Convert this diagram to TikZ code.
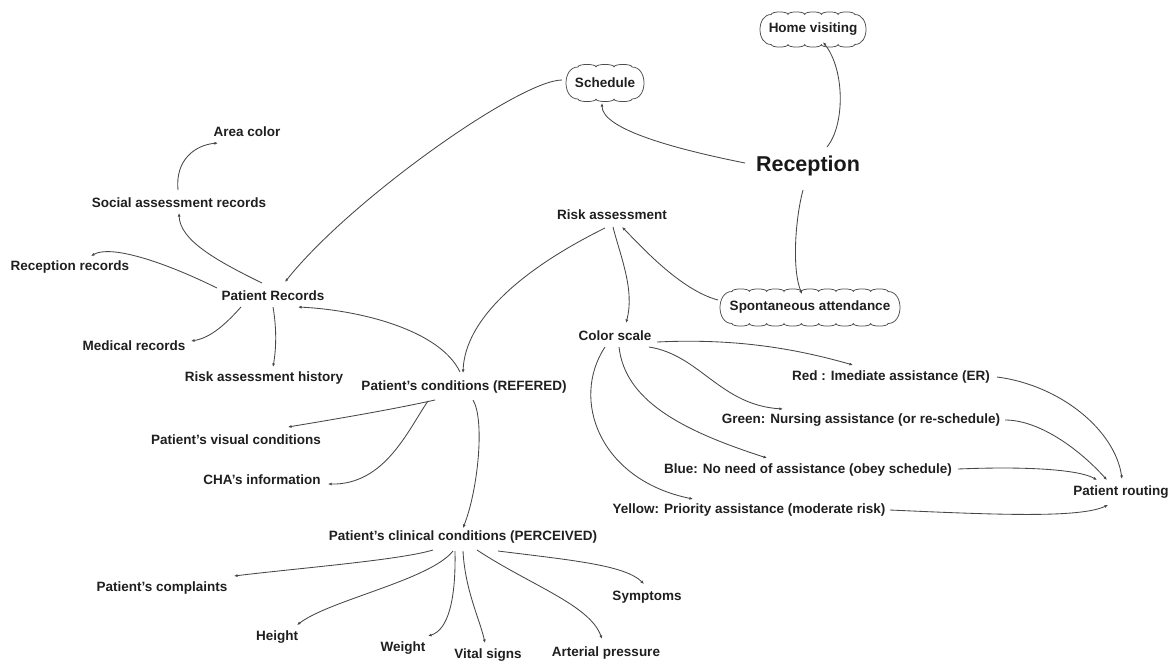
\documentclass[tikz,border=0pt]{standalone}
\usepackage{fontspec}
\setmainfont{Liberation Sans}
\usetikzlibrary{arrows.meta}

\tikzset{
  lbl/.style={inner sep=0pt, text=black!88, font=\fontsize{13.5}{15}\selectfont\bfseries},
  hub/.style={inner sep=0pt, text=black!90, font=\fontsize{21.5}{24}\selectfont\bfseries},
  rim/.style={draw=black!70, line width=0.75pt, line join=round},
  link/.style={draw=black!72, line width=0.85pt, -{Latex[length=3.6pt,width=3pt]}},
}

% scalloped frame: centre x, centre y, half width, half height, number of scallops per long side
\newcommand\cloudrim[5]{%
  \pgfmathsetmacro\rimL{#1-#3+0.75*#4}%
  \pgfmathsetmacro\rimR{#1+#3-0.75*#4}%
  \pgfmathsetmacro\rimS{(\rimR-\rimL)/#5}%
  \pgfmathsetmacro\rimT{#2-#4}%
  \pgfmathsetmacro\rimB{#2+#4}%
  \pgfmathsetmacro\rimK{1.0*#4}%
  \draw[rim] (\rimL,\rimT)
    \foreach \k in {1,...,#5}{ .. controls +(0,-3.4) and +(0,-3.4) .. ++(\rimS,0) }
    .. controls +(\rimK,0) and +(\rimK,0) .. (\rimR,\rimB)
    \foreach \k in {1,...,#5}{ .. controls +(0,3.4) and +(0,3.4) .. ++(-\rimS,0) }
    .. controls +(-\rimK,0) and +(-\rimK,0) .. (\rimL,\rimT) -- cycle;
}

\begin{document}
\begin{tikzpicture}[x=1pt, y=-1pt]
\useasboundingbox (0,0) rectangle (1173,662);

% reception hub and its destinations
\node[hub] (rec) at (808,166) {Reception};
\node[lbl, minimum width=109pt, minimum height=35pt] (hv) at (813,29) {Home visiting};
\node[lbl, minimum width=82pt, minimum height=36pt] (sch) at (605,83) {Schedule};
\node[lbl, minimum width=184pt, minimum height=37pt] (sa) at (810,307) {Spontaneous attendance};
\cloudrim{813}{29.5}{53}{15}{5}
\cloudrim{605}{83}{39}{16}{3}
\cloudrim{810}{307.5}{90}{16}{9}

% risk assessment branch
\node[lbl] (ra) at (612,215) {Risk assessment};
\node[lbl] (cs) at (615,336) {Color scale};
\node[lbl] (red) at (891,377) {Red : Imediate assistance (ER)};
\node[lbl] (grn) at (861,420) {Green: Nursing assistance (or re-schedule)};
\node[lbl] (blu) at (808,470) {Blue: No need of assistance (obey schedule)};
\node[lbl] (yel) at (749,510) {Yellow: Priority assistance (moderate risk)};
\node[lbl] (prt) at (1121,492) {Patient routing};

% patient records branch
\node[lbl] (pr) at (273,296) {Patient Records};
\node[lbl] (sar) at (179,203) {Social assessment records};
\node[lbl] (ac) at (247,132) {Area color};
\node[lbl] (rr) at (70,267) {Reception records};
\node[lbl] (mr) at (134,346) {Medical records};
\node[lbl] (rah) at (264,378) {Risk assessment history};

% patient conditions branch
\node[lbl] (pc) at (464,387) {Patient's conditions (REFERED)};
\node[lbl] (pvc) at (236,440) {Patient's visual conditions};
\node[lbl] (cha) at (262,480) {CHA's information};
\node[lbl] (pcc) at (463,537) {Patient's clinical conditions (PERCEIVED)};
\node[lbl] (cmp) at (162,588) {Patient's complaints};
\node[lbl] (hgt) at (277,637) {Height};
\node[lbl] (wgt) at (403,648) {Weight};
\node[lbl] (vs) at (488,655) {Vital signs};
\node[lbl] (ap) at (606,653) {Arterial pressure};
\node[lbl] (sym) at (647,597) {Symptoms};

% connectors from reception
\draw[link] ([shift={(-63,-3)}]rec.center) .. controls (680,150) and (602,130) .. ([shift={(-3,20)}]sch.center);
\draw[link] ([shift={(19,-19)}]rec.center) .. controls (845,125) and (845,70) .. ([shift={(10,13)}]hv.center);
\draw[link] ([shift={(-5,24)}]rec.center) .. controls (795,220) and (792,270) .. ([shift={(-8,-13)}]sa.center);

% risk assessment connectors
\draw[link] ([shift={(-92,-7)}]sa.center) .. controls (680,290) and (640,245) .. ([shift={(10,12)}]ra.center);
\draw[link] ([shift={(1,12)}]ra.center) .. controls (620,255) and (635,290) .. ([shift={(11,-13)}]cs.center);
\draw[link] ([shift={(-7,13)}]ra.center) .. controls (520,270) and (465,320) .. ([shift={(-1,-14)}]pc.center);

% colour scale connectors
\draw[link] ([shift={(42,6)}]cs.center) .. controls (740,338) and (800,350) .. ([shift={(-38,-12)}]red.center);
\draw[link] ([shift={(34,11)}]cs.center) .. controls (700,355) and (720,405) .. ([shift={(-78,-11)}]grn.center);
\draw[link] ([shift={(4,11)}]cs.center) .. controls (625,400) and (680,430) .. ([shift={(-41,-12)}]blu.center);
\draw[link] ([shift={(-10,11)}]cs.center) .. controls (570,400) and (600,480) .. ([shift={(-56,-11)}]yel.center);

% routing connectors
\draw[link] ([shift={(106,0)}]red.center) .. controls (1060,385) and (1115,430) .. ([shift={(1,-13)}]prt.center);
\draw[link] ([shift={(144,0)}]grn.center) .. controls (1040,420) and (1080,450) .. ([shift={(-14,-12)}]prt.center);
\draw[link] ([shift={(150,-1)}]blu.center) .. controls (1030,466) and (1080,470) .. ([shift={(-24,-12)}]prt.center);
\draw[link] ([shift={(141,0)}]yel.center) .. controls (1000,515) and (1080,518) .. ([shift={(-13,13)}]prt.center);

% patient records connectors
\draw[link] ([shift={(-43,-3)}]sch.center) .. controls (520,80) and (350,200) .. ([shift={(12,-14)}]pr.center);
\draw[link] ([shift={(-4,-15)}]pc.center) .. controls (440,330) and (360,310) .. ([shift={(25,11)}]pr.center);
\draw[link] ([shift={(-11,-13)}]pr.center) .. controls (215,260) and (180,240) .. ([shift={(0,10)}]sar.center);
\draw[link] ([shift={(-1,-13)}]sar.center) .. controls (175,160) and (195,145) .. ([shift={(-29,11)}]ac.center);
\draw[link] ([shift={(-56,-8)}]pr.center) .. controls (160,260) and (110,245) .. ([shift={(21,-11)}]rr.center);
\draw[link] ([shift={(-32,11)}]pr.center) .. controls (225,325) and (210,338) .. ([shift={(57,-5)}]mr.center);
\draw[link] ([shift={(0,11)}]pr.center) .. controls (277,330) and (276,350) .. ([shift={(9,-11)}]rah.center);

% patient conditions connectors
\draw[link] ([shift={(-29,13)}]pc.center) .. controls (390,410) and (330,420) .. ([shift={(52,-13)}]pvc.center);
\draw[link] ([shift={(-36,14)}]pc.center) .. controls (408,430) and (385,485) .. ([shift={(66,4)}]cha.center);
\draw[link] ([shift={(9,13)}]pc.center) .. controls (485,420) and (478,490) .. ([shift={(0,-9)}]pcc.center);

% clinical conditions connectors
\draw[link] ([shift={(-30,13)}]pcc.center) .. controls (400,560) and (300,568) .. ([shift={(72,-12)}]cmp.center);
\draw[link] ([shift={(-10,14)}]pcc.center) .. controls (430,580) and (330,600) .. ([shift={(20,-12)}]hgt.center);
\draw[link] ([shift={(-8,14)}]pcc.center) .. controls (456,600) and (448,630) .. ([shift={(25,-12)}]wgt.center);
\draw[link] ([shift={(0,14)}]pcc.center) .. controls (465,590) and (480,620) .. ([shift={(-3,-12)}]vs.center);
\draw[link] ([shift={(14,13)}]pcc.center) .. controls (530,585) and (590,605) .. ([shift={(-4,-14)}]ap.center);
\draw[link] ([shift={(35,14)}]pcc.center) .. controls (570,560) and (625,565) .. ([shift={(-3,-13)}]sym.center);
\end{tikzpicture}
\end{document}
